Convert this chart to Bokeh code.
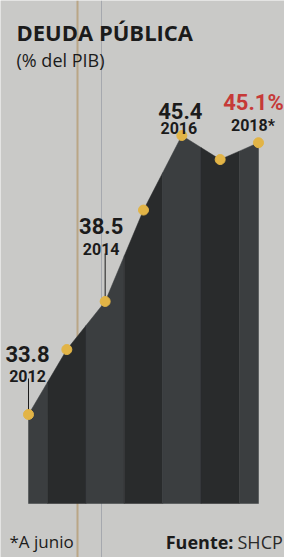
from bokeh.plotting import figure
from bokeh.models import Label, Span
from bokeh.core.properties import value
from bokeh.embed import file_html
from bokeh.resources import INLINE

# ---- data ----
years = [2012, 2013, 2014, 2015, 2016, 2017, 2018]
deuda = [33.8, 36.5, 38.5, 42.3, 45.4, 44.4, 45.1]
label_years = [2012, 2014, 2016, 2018]
label_values = ["33.8", "38.5", "45.4", "45.1%"]
label_year_text = ["2012", "2014", "2016", "2018*"]
title_text = "DEUDA PÚBLICA"
subtitle_text = "(% del PIB)"
note_text = "*A junio"
source_label = "Fuente:"
source_name = "SHCP"

# ---- layout / style ----
W, H = 284, 557
PX_X = 230 / 6.0
PX_Y = 279 / 11.6
X0 = 2012 - 28 / PX_X
X1 = X0 + W / PX_X
Y1 = 45.4 + 135 / PX_Y
Y0 = Y1 - H / PX_Y
BASE = Y1 - 503 / PX_Y
BG = "#c9c9c7"
DARK = "#292b2c"
LIGHT = "#3b3e40"
GOLD = "#e2b446"
INK = "#1b1b1b"
RED = "#c63a38"
NUM_FONT = value("Roboto")
TXT_FONT = "Open Sans"

p = figure(width=W, height=H, x_range=(X0, X1), y_range=(Y0, Y1),
           output_backend="svg", toolbar_location=None,
           x_axis_type=None, y_axis_type=None,
           min_border=0, min_border_left=0, min_border_right=0,
           min_border_top=0, min_border_bottom=0)
p.background_fill_color = BG
p.border_fill_color = BG
p.outline_line_color = None
p.grid.visible = False

# scan fold lines (decor)
p.add_layout(Span(location=X0 + 77 / PX_X, dimension="height", line_color="#b3976b",
                  line_width=2, line_alpha=0.7, level="underlay"))
p.add_layout(Span(location=X0 + 101 / PX_X, dimension="height", line_color="#8d939c",
                  line_width=1, line_alpha=0.6, level="underlay"))

# banded area, one band per year centred on the year
def interp(x):
    for i in range(len(years) - 1):
        if years[i] <= x <= years[i + 1]:
            t = (x - years[i]) / (years[i + 1] - years[i])
            return deuda[i] + t * (deuda[i + 1] - deuda[i])
    return deuda[-1]

xs, ys, cols = [], [], []
for i, (yr, v) in enumerate(zip(years, deuda)):
    left = max(years[0], yr - 0.5)
    right = min(years[-1], yr + 0.5)
    xs.append([left, left, yr, right, right])
    ys.append([BASE, interp(left), v, interp(right), BASE])
    cols.append(LIGHT if i % 2 == 0 else DARK)
p.patches(xs=xs, ys=ys, fill_color=cols, line_color=cols, line_width=0.5)

# leader lines
lead_px = {2012: 36, 2014: 48}
for yr, px in lead_px.items():
    v = deuda[years.index(yr)]
    p.segment(x0=[yr], y0=[v], x1=[yr], y1=[v + px / PX_Y], line_color=INK, line_width=1)

# points
p.scatter(years, deuda, size=10, fill_color=GOLD, line_color=GOLD)

# labels
val_off = {2012: (-1, -61), 2014: (-4, -75), 2016: (-1.5, -25), 2018: (-5, -40)}
yr_off = {2012: (-1, -39), 2014: (-4, -52), 2016: (-3, -8), 2018: (-5.5, -17)}
for yr, vt, yt in zip(label_years, label_values, label_year_text):
    v = deuda[years.index(yr)]
    is_last = yr == label_years[-1]
    ox, oy = val_off[yr]
    p.text(x=[yr], y=[v], text=[vt], x_offset=ox, y_offset=oy,
           text_font=NUM_FONT, text_font_style="bold", text_font_size="22px",
           text_color=RED if is_last else INK,
           text_align="center", text_baseline="alphabetic")
    ox, oy = yr_off[yr]
    p.text(x=[yr], y=[v], text=[yt], x_offset=ox, y_offset=oy,
           text_font=NUM_FONT, text_font_style="bold", text_font_size="16px",
           text_color=INK, text_align="center", text_baseline="alphabetic")

# titles & footer
p.add_layout(Label(x=16, y=H - 31, x_units="screen", y_units="screen", text=title_text,
                   text_font=TXT_FONT, text_font_style="bold", text_font_size="22px",
                   text_color=INK, text_baseline="alphabetic"))
p.add_layout(Label(x=16, y=H - 59, x_units="screen", y_units="screen", text=subtitle_text,
                   text_font=TXT_FONT, text_font_size="18px",
                   text_color=INK, text_baseline="alphabetic"))
p.add_layout(Label(x=9, y=H - 541, x_units="screen", y_units="screen", text=note_text,
                   text_font=TXT_FONT, text_font_size="17px",
                   text_color=INK, text_baseline="alphabetic"))
p.add_layout(Label(x=233, y=H - 541, x_units="screen", y_units="screen", text=source_label,
                   text_font=TXT_FONT, text_font_style="bold", text_font_size="18px",
                   text_color=INK, text_align="right", text_baseline="alphabetic"))
p.add_layout(Label(x=237, y=H - 541, x_units="screen", y_units="screen", text=source_name,
                   text_font=TXT_FONT, text_font_size="18px",
                   text_color="#2a2a2a", text_baseline="alphabetic"))

open("out.html", "w").write(file_html(p, INLINE))
